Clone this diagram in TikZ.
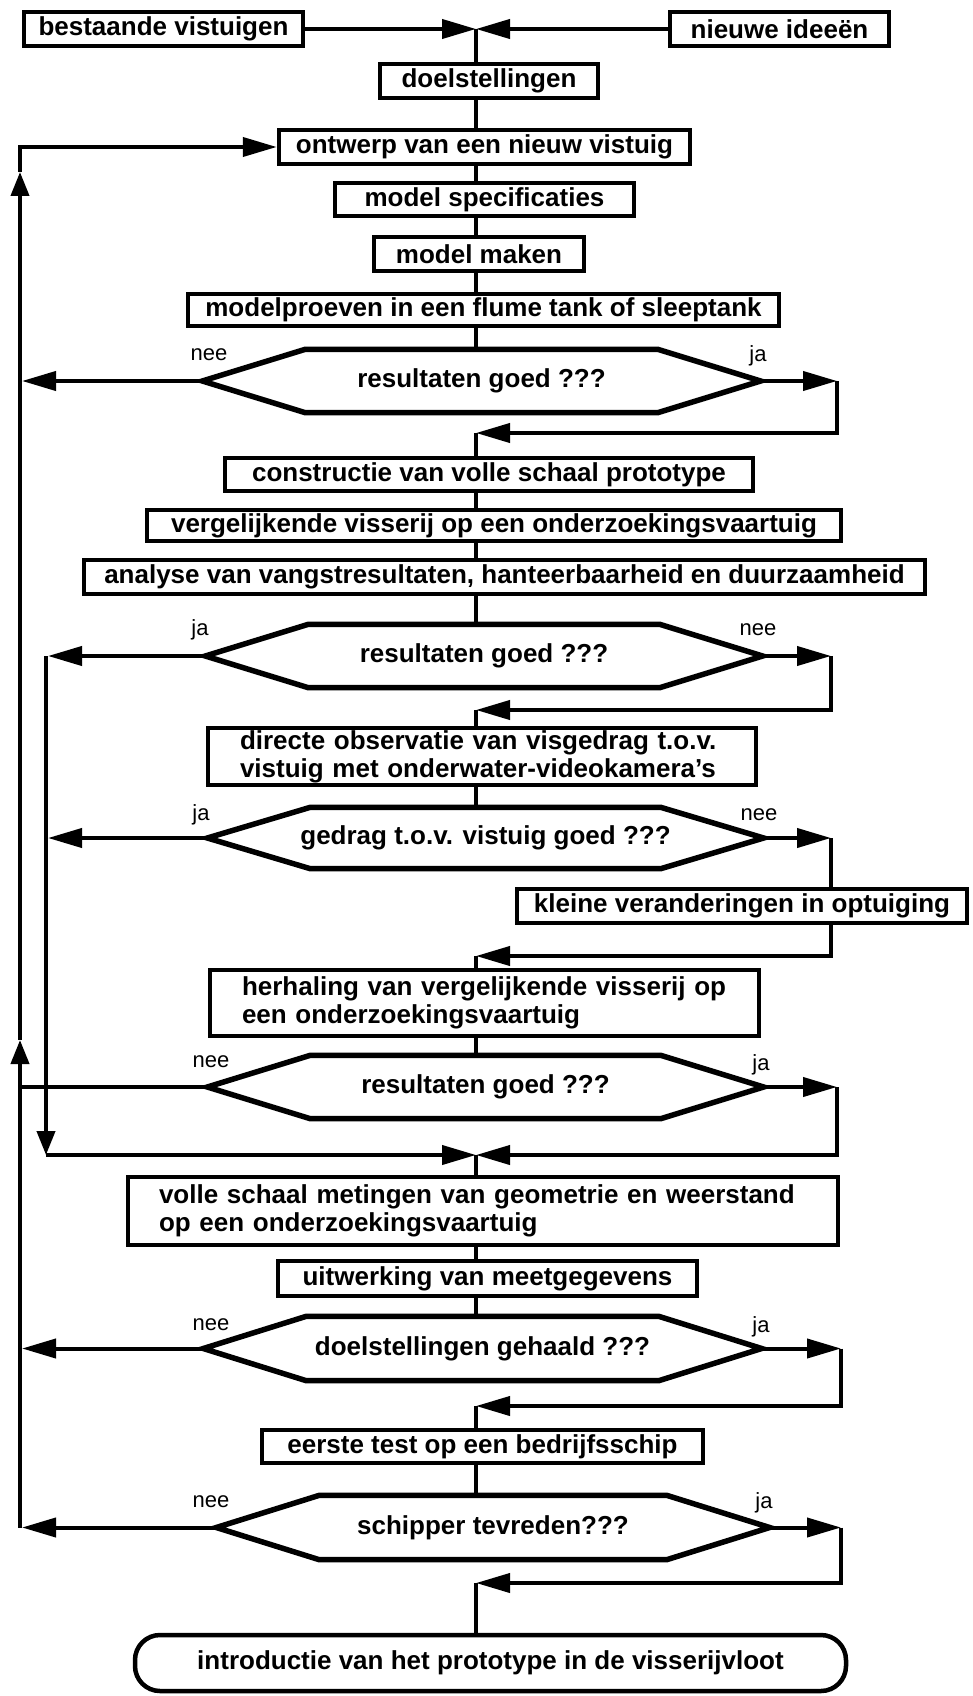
\documentclass[tikz,border=0pt]{standalone}
\usepackage{fontspec}
\setmainfont{Liberation Sans}
\usetikzlibrary{arrows.meta}
\newcommand\drawhex[1]{\draw[hexline] (#1.west) -- ([xshift=103pt]#1.north west) -- ([xshift=-103pt]#1.north east) -- (#1.east) -- ([xshift=-103pt]#1.south east) -- ([xshift=103pt]#1.south west) -- cycle;}
\begin{document}
\begin{tikzpicture}[x=1pt,y=-1pt,
  box/.style={draw, line width=4.5pt, inner sep=0pt, font=\fontsize{26}{28}\selectfont\bfseries, align=center},
  lbox/.style={box, align=left},
  hexn/.style={inner sep=0pt, font=\fontsize{26}{28}\selectfont\bfseries},
  hexline/.style={line width=5.5pt, line join=miter},
  lbl/.style={font=\fontsize{22}{24}\selectfont, inner sep=0pt},
  conn/.style={line width=4pt, line join=miter},
  harr/.style={conn, -{Triangle[length=34pt,width=19pt]}},
  varr/.style={conn, -{Triangle[length=24pt,width=18pt]}},
]
\useasboundingbox (0,0) rectangle (972,1696);
\coordinate (C) at (476,0);
\coordinate (L) at (20,0);
\coordinate (Lt) at (22,0);
\coordinate (I) at (46,0);
\coordinate (It) at (48,0);

% boxes
\node[box, minimum width=279pt, minimum height=34pt] (b1) at (163.5,29) {bestaande vistuigen};
\node[box, minimum width=219pt, minimum height=34pt] (b2) at (779.5,29) {nieuwe ideeën};
\node[box, minimum width=218pt, minimum height=34pt] (doel) at (489,81) {doelstellingen};
\node[box, minimum width=411pt, minimum height=34pt] (ontwerp) at (484.5,147) {ontwerp van een nieuw vistuig};
\node[box, minimum width=299pt, minimum height=33pt] (modspec) at (484.5,199.5) {model specificaties};
\node[box, minimum width=210pt, minimum height=34pt] (modmaken) at (479,254) {model maken};
\node[box, minimum width=591pt, minimum height=32pt] (modproef) at (483.5,310) {modelproeven in een flume tank of sleeptank};
\node[box, minimum width=528pt, minimum height=33pt] (constr) at (489,474.5) {constructie van volle schaal prototype};
\node[box, minimum width=694pt, minimum height=31pt] (vergel) at (494,525.5) {vergelijkende visserij op een onderzoekingsvaartuig};
\node[box, minimum width=841pt, minimum height=34pt] (analyse) at (504.5,577) {analyse van vangstresultaten, hanteerbaarheid en duurzaamheid};
\node[lbox, text width=484pt, inner xsep=32pt, minimum height=57pt] (direct) at (482,756.5) {directe observatie van visgedrag t.o.v.\\vistuig met onderwater-videokamera's};
\node[box, minimum width=450pt, minimum height=34pt] (kleine) at (742,906) {kleine veranderingen in optuiging};
\node[lbox, text width=485pt, inner xsep=32pt, minimum height=66pt] (herhaling) at (484.5,1003) {herhaling van vergelijkende visserij op\\een onderzoekingsvaartuig};
\node[lbox, text width=648pt, inner xsep=31pt, minimum height=68pt] (volle) at (483,1211) {volle schaal metingen van geometrie en weerstand\\op een onderzoekingsvaartuig};
\node[box, minimum width=419pt, minimum height=35pt] (uitwerk) at (487.5,1278.5) {uitwerking van meetgegevens};
\node[box, minimum width=441pt, minimum height=33pt] (eerste) at (482.5,1446.5) {eerste test op een bedrijfsschip};
\node[box, rounded corners=25pt, minimum width=711pt, minimum height=56pt] (intro) at (490.5,1663) {introductie van het prototype in de visserijvloot};

% decisions
\node[hexn, minimum width=558pt, minimum height=63pt] (h1) at (481.5,381) {resultaten goed ???};
\node[hexn, minimum width=557pt, minimum height=63pt] (h2) at (484,656) {resultaten goed ???};
\node[hexn, minimum width=556pt, minimum height=61pt] (h3) at (485.5,838) {gedrag t.o.v. vistuig goed ???};
\node[hexn, minimum width=556pt, minimum height=63pt] (h4) at (485.5,1087) {resultaten goed ???};
\node[hexn, minimum width=558pt, minimum height=64pt] (h5) at (482.5,1348.5) {doelstellingen gehaald ???};
\node[hexn, minimum width=553pt, minimum height=64pt] (h6) at (493,1527.5) {schipper tevreden???};
\drawhex{h1}\drawhex{h2}\drawhex{h3}\drawhex{h4}\drawhex{h5}\drawhex{h6}

% labels
\node[lbl] (n1) at (209,355) {nee};
\node[lbl] (j1) at (758,356) {ja};
\node[lbl] (j2) at (200,630) {ja};
\node[lbl] (n2) at (758,630) {nee};
\node[lbl] (j3) at (201,815) {ja};
\node[lbl] (n3) at (759,815) {nee};
\node[lbl] (n4) at (211,1062) {nee};
\node[lbl] (j4) at (761,1065) {ja};
\node[lbl] (n5) at (211,1325) {nee};
\node[lbl] (j5) at (761,1327) {ja};
\node[lbl] (n6) at (211,1502) {nee};
\node[lbl] (j6) at (764,1503) {ja};

% top junction
\coordinate (J1) at (476,29);
\draw[harr] (b1.east) -- (J1);
\draw[harr] (b2.west) -- (J1);
\draw[conn] (J1) -- (J1 |- doel.north);
\draw[conn] (doel.south -| C) -- (ontwerp.north -| C);
\draw[conn] (ontwerp.south -| C) -- (modspec.north -| C);
\draw[conn] (modspec.south -| C) -- (modmaken.north -| C);
\draw[conn] (modmaken.south -| C) -- (modproef.north -| C);
\draw[conn] (modproef.south -| C) -- (h1.north -| C);

% hex1
\draw[harr] (h1.west) -- (h1.west -| Lt);
\coordinate (r1) at (837,381);
\coordinate (m1) at (476,433);
\draw[harr] (h1.east) -- (r1);
\draw[harr] (r1) |- (m1);
\draw[conn] (m1) -- (m1 |- constr.north);
\draw[conn] (constr.south -| C) -- (vergel.north -| C);
\draw[conn] (vergel.south -| C) -- (analyse.north -| C);
\draw[conn] (analyse.south -| C) -- (h2.north -| C);

% hex2
\draw[harr] (h2.west) -- (h2.west -| It);
\coordinate (r2) at (831,656);
\coordinate (m2) at (476,710);
\draw[harr] (h2.east) -- (r2);
\draw[harr] (r2) |- (m2);
\draw[conn] (m2) -- (m2 |- direct.north);
\draw[conn] (direct.south -| C) -- (h3.north -| C);

% hex3
\draw[harr] (h3.west) -- (h3.west -| It);
\coordinate (r3) at (831,838);
\draw[harr] (h3.east) -- (r3);
\draw[conn] (r3) -- (r3 |- kleine.north);
\coordinate (m3) at (476,956);
\draw[harr] (kleine.south -| r3) |- (m3);
\draw[conn] (m3) -- (m3 |- herhaling.north);
\draw[conn] (herhaling.south -| C) -- (h4.north -| C);

% hex4
\draw[conn] (h4.west) -- (h4.west -| L);
\coordinate (r4) at (837,1087);
\coordinate (m4) at (476,1155);
\draw[harr] (h4.east) -- (r4);
\draw[harr] (r4) |- (m4);
\coordinate (i1) at (h2.west -| I);
\coordinate (i2) at (46,1155);
\draw[varr] (i1) -- (i2);
\draw[harr] (i2) -- (m4);
\draw[conn] (m4) -- (m4 |- volle.north);
\draw[conn] (volle.south -| C) -- (uitwerk.north -| C);
\draw[conn] (uitwerk.south -| C) -- (h5.north -| C);

% hex5
\draw[harr] (h5.west) -- (h5.west -| Lt);
\coordinate (r5) at (841,1348.5);
\coordinate (m5) at (476,1406);
\draw[harr] (h5.east) -- (r5);
\draw[harr] (r5) |- (m5);
\draw[conn] (m5) -- (m5 |- eerste.north);
\draw[conn] (eerste.south -| C) -- (h6.north -| C);

% hex6
\draw[harr] (h6.west) -- (h6.west -| Lt);
\coordinate (r6) at (841,1527.5);
\coordinate (m6) at (476,1583);
\draw[harr] (h6.east) -- (r6);
\draw[harr] (r6) |- (m6);
\draw[conn] (m6) -- (m6 |- intro.north);

% outer return line
\coordinate (o1) at (h6.west -| L);
\coordinate (o2) at (20,1040);
\coordinate (o3) at (20,172);
\draw[varr] (o1) -- (o2);
\draw[varr] (o2) -- (o3);
\draw[harr] (o3) |- (ontwerp.west);
\end{tikzpicture}
\end{document}
